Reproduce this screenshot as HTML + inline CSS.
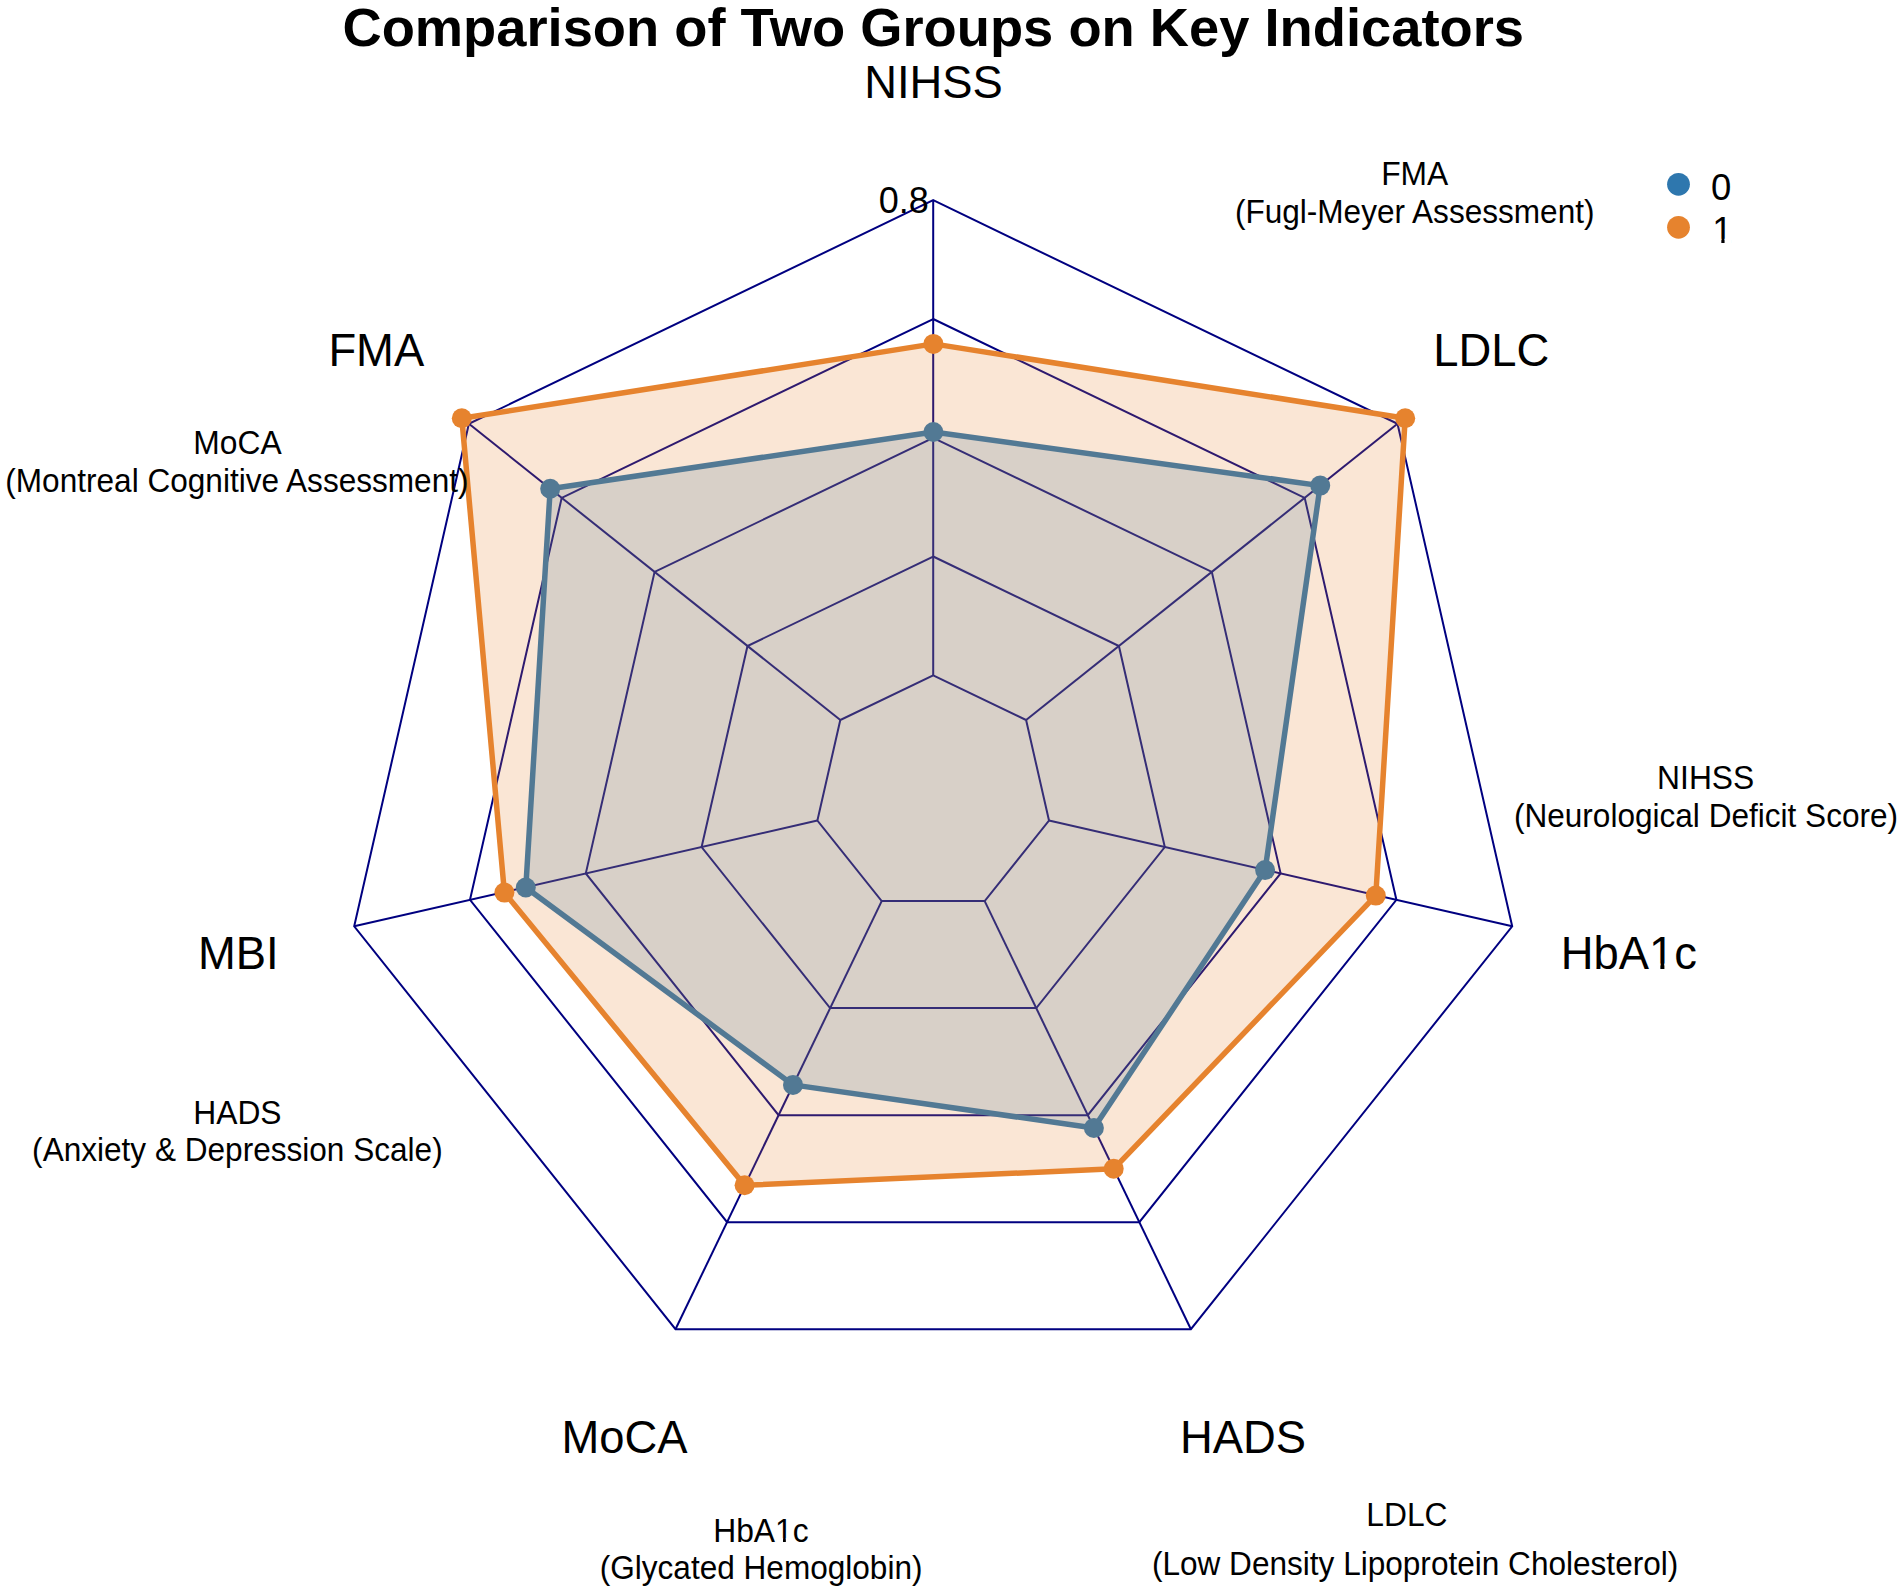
<!DOCTYPE html>
<html><head><meta charset="utf-8"><title>Comparison of Two Groups on Key Indicators</title><style>
html,body{margin:0;padding:0;background:#fff;overflow:hidden;}
svg{display:block;}
text{font-family:"Liberation Sans", Arial, Helvetica, sans-serif;fill:#000;}
</style></head><body>
<svg width="1902" height="1592" viewBox="0 0 1902 1592">
<defs><clipPath id="clip_HbA1c" clipPathUnits="userSpaceOnUse"><path d="M-3000,-3000H3000V3000H-3000ZM22.40,-5.32H31.60V6H22.40ZM35.61,-5.32H44.57V6H35.61Z" clip-rule="evenodd"/></clipPath><clipPath id="clip_sHbA1c" clipPathUnits="userSpaceOnUse"><path d="M-3000,-3000H3000V3000H-3000ZM15.69,-3.73H22.13V6H15.69ZM24.94,-3.73H31.22V6H24.94Z" clip-rule="evenodd"/></clipPath><clipPath id="clip_l1" clipPathUnits="userSpaceOnUse"><path d="M-3000,-3000H3000V3000H-3000ZM-8.37,-4.28H-0.97V6H-8.37ZM2.25,-4.28H9.45V6H2.25Z" clip-rule="evenodd"/></clipPath></defs>
<rect width="1902" height="1592" fill="#fff"/>
<g fill="none" stroke="#000080" stroke-width="2">
<polygon points="933.2,675.3 1026.1,720.0 1049.0,820.5 984.7,901.1 881.7,901.1 817.4,820.5 840.3,720.0"/>
<polygon points="933.2,556.5 1118.9,646.0 1164.8,847.0 1036.3,1008.1 830.1,1008.1 701.6,847.0 747.5,646.0"/>
<polygon points="933.2,437.8 1211.8,571.9 1280.6,873.4 1087.8,1115.2 778.6,1115.2 585.8,873.4 654.6,571.9"/>
<polygon points="933.2,319.0 1304.7,497.9 1396.4,899.8 1139.3,1222.2 727.1,1222.2 470.0,899.8 561.7,497.9"/>
<polygon points="933.2,200.2 1397.5,423.8 1512.2,926.3 1190.9,1329.2 675.5,1329.2 354.2,926.3 468.9,423.8"/>
<line x1="933.2" y1="675.3" x2="933.2" y2="200.2"/>
<line x1="1026.1" y1="720.0" x2="1397.5" y2="423.8"/>
<line x1="1049.0" y1="820.5" x2="1512.2" y2="926.3"/>
<line x1="984.7" y1="901.1" x2="1190.9" y2="1329.2"/>
<line x1="881.7" y1="901.1" x2="675.5" y2="1329.2"/>
<line x1="817.4" y1="820.5" x2="354.2" y2="926.3"/>
<line x1="840.3" y1="720.0" x2="468.9" y2="423.8"/>
</g>
<polygon points="933.4,432.0 1320.2,485.6 1265.1,870.1 1093.9,1128.0 793.0,1084.9 525.8,887.5 550.2,488.8" fill="#2E77AE" fill-opacity="0.2" stroke="none"/>
<polygon points="933.4,432.0 1320.2,485.6 1265.1,870.1 1093.9,1128.0 793.0,1084.9 525.8,887.5 550.2,488.8" fill="none" stroke="#2E77AE" stroke-width="5.5" stroke-linejoin="round"/>
<circle cx="933.4" cy="432.0" r="10.0" fill="#2E77AE"/>
<circle cx="1320.2" cy="485.6" r="10.0" fill="#2E77AE"/>
<circle cx="1265.1" cy="870.1" r="10.0" fill="#2E77AE"/>
<circle cx="1093.9" cy="1128.0" r="10.0" fill="#2E77AE"/>
<circle cx="793.0" cy="1084.9" r="10.0" fill="#2E77AE"/>
<circle cx="525.8" cy="887.5" r="10.0" fill="#2E77AE"/>
<circle cx="550.2" cy="488.8" r="10.0" fill="#2E77AE"/>
<polygon points="933.4,343.9 1405.2,418.2 1375.8,895.6 1113.7,1168.8 744.6,1185.3 504.4,892.6 461.8,418.3" fill="#E6832E" fill-opacity="0.2" stroke="none"/>
<polygon points="933.4,343.9 1405.2,418.2 1375.8,895.6 1113.7,1168.8 744.6,1185.3 504.4,892.6 461.8,418.3" fill="none" stroke="#E6832E" stroke-width="5.5" stroke-linejoin="round"/>
<circle cx="933.4" cy="343.9" r="10.0" fill="#E6832E"/>
<circle cx="1405.2" cy="418.2" r="10.0" fill="#E6832E"/>
<circle cx="1375.8" cy="895.6" r="10.0" fill="#E6832E"/>
<circle cx="1113.7" cy="1168.8" r="10.0" fill="#E6832E"/>
<circle cx="744.6" cy="1185.3" r="10.0" fill="#E6832E"/>
<circle cx="504.4" cy="892.6" r="10.0" fill="#E6832E"/>
<circle cx="461.8" cy="418.3" r="10.0" fill="#E6832E"/>
<circle cx="1678.5" cy="184.3" r="11.4" fill="#2E77AE"/>
<circle cx="1678.5" cy="227.3" r="11.4" fill="#E6832E"/>
<text transform="translate(933.20,46.30)" font-size="54.30" font-weight="bold" text-anchor="middle">Comparison of Two Groups on Key Indicators</text>
<text transform="translate(933.50,97.70) scale(1,1.035)" font-size="45.40" text-anchor="middle">NIHSS</text>
<text transform="translate(1491.20,366.00) scale(1,1.035)" font-size="45.40" text-anchor="middle">LDLC</text>
<text transform="translate(376.30,366.20) scale(1,1.035)" font-size="45.40" text-anchor="middle">FMA</text>
<text transform="translate(238.30,968.90) scale(1,1.035)" font-size="45.40" text-anchor="middle">MBI</text>
<text transform="translate(1628.80,969.00) scale(1,1.035)" font-size="45.40" text-anchor="middle" clip-path="url(#clip_HbA1c)">HbA1c</text>
<text transform="translate(624.50,1452.50) scale(1,1.035)" font-size="45.40" text-anchor="middle">MoCA</text>
<text transform="translate(1243.00,1452.60) scale(1,1.035)" font-size="45.40" text-anchor="middle">HADS</text>
<text transform="translate(1414.75,184.90) scale(1,1.035)" font-size="31.80" text-anchor="middle">FMA</text>
<text transform="translate(1414.70,222.90) scale(1,1.035)" font-size="31.58" text-anchor="middle">(Fugl-Meyer Assessment)</text>
<text transform="translate(237.50,453.60) scale(1,1.035)" font-size="31.80" text-anchor="middle">MoCA</text>
<text transform="translate(236.90,492.30) scale(1,1.035)" font-size="31.58" text-anchor="middle">(Montreal Cognitive Assessment)</text>
<text transform="translate(237.40,1123.60) scale(1,1.035)" font-size="31.80" text-anchor="middle">HADS</text>
<text transform="translate(237.40,1161.40) scale(1,1.035)" font-size="31.58" text-anchor="middle">(Anxiety &amp; Depression Scale)</text>
<text transform="translate(1705.70,788.80) scale(1,1.035)" font-size="31.80" text-anchor="middle">NIHSS</text>
<text transform="translate(1706.00,826.60) scale(1,1.035)" font-size="31.58" text-anchor="middle">(Neurological Deficit Score)</text>
<text transform="translate(760.90,1542.00) scale(1,1.035)" font-size="31.80" text-anchor="middle" clip-path="url(#clip_sHbA1c)">HbA1c</text>
<text transform="translate(761.10,1578.90) scale(1,1.035)" font-size="31.58" text-anchor="middle">(Glycated Hemoglobin)</text>
<text transform="translate(1406.90,1525.80) scale(1,1.035)" font-size="31.80" text-anchor="middle">LDLC</text>
<text transform="translate(1415.10,1574.70) scale(1,1.035)" font-size="31.58" text-anchor="middle">(Low Density Lipoprotein Cholesterol)</text>
<text transform="translate(903.70,213.00) scale(1,1.03)" font-size="36.00" text-anchor="middle">0.8</text>
<text transform="translate(1721.20,199.70) scale(1,1.03)" font-size="36.50" text-anchor="middle">0</text>
<text transform="translate(1722.31,243.20) scale(1,1.03)" font-size="36.50" text-anchor="middle" clip-path="url(#clip_l1)">1</text>
</svg>
</body></html>
